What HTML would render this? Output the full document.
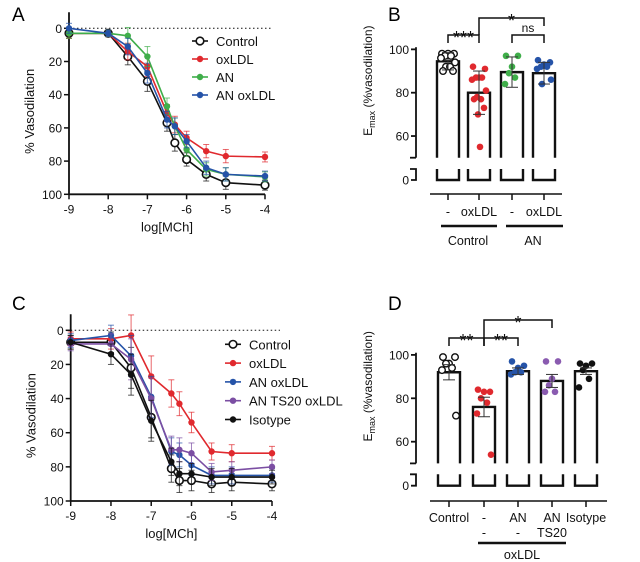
<!DOCTYPE html>
<html><head><meta charset="utf-8"><style>
body{margin:0;background:#fff}
svg{display:block;font-family:"Liberation Sans",Arial,sans-serif}
</style></head><body>
<svg id="fig" width="640" height="562" viewBox="0 0 640 562" xmlns="http://www.w3.org/2000/svg">
<rect width="640" height="562" fill="#fff"/>
<text x="12" y="21" font-size="19">A</text>
<text x="388" y="21" font-size="19">B</text>
<text x="12" y="310" font-size="19">C</text>
<text x="388" y="310" font-size="19">D</text>
</svg>
<script>
const doseX = [-9,-8,-7.5,-7,-6.5,-6.3,-6,-5.5,-5,-4];
const xTicks = [-9,-8,-7,-6,-5,-4];
const yTicks = [0,20,40,60,80,100];
// Panel A
const aNames = ["Control","oxLDL","AN","AN oxLDL"];
const aControl = [3,3,17,32,57,69,79,88,93,94.5];
const aOxLDL = [3,3,14,23,51,58,66,74,77,77.5];
const aAN = [3,3,4.5,17,47,59,73,85,88,89.5];
const aANox = [0,3,11,27,55,59,68,84,88,89];
const aErr = [3,2,5,6,5,5,4,4,4,3];
// Panel C
const cNames = ["Control","oxLDL","AN oxLDL","AN TS20 oxLDL","Isotype"];
const cControl = [7,7,22,51,81,88,88,90,89,90];
const cOxLDL = [5,5,3,27,37,43,54,71,72,72];
const cANox = [6,3,15,39,71,73,79,85,85,85];
const cTS20 = [8,8,17,40,70,70,72,83,82,80];
const cIso = [7,14,26,53,77,84,84,86,86,86];
const cErr = [4,6,12,12,8,7,6,5,5,4];
// Panel B
const bBars = [94.5,80,89.5,89];
const bErr = [4,10,7,5];
const bDots = [[98,98,98,97,97,96,94,92,92,90,90],[92,91,87,87,87,86,81,78,77,77,73,70,55],[97,97,92,89,87,84],[95,94,93,92,92,91,86,84]];
// Panel D
const dBars = [92,76,92.5,88,92.5];
const dErr = [3.5,4.5,1.5,3,1.5];
const dDots = [[99,99,96,96,94,93,72],[84,83,83,80,78,73,54],[97,95,94,92,92,91],[97,97,89,86,83,83],[96,96,95,93,89,85]];

const NS="http://www.w3.org/2000/svg";
const svg=document.getElementById('fig');
function mk(tag,at,parent){const e=document.createElementNS(NS,tag);for(const k in at)e.setAttribute(k,at[k]);(parent||svg).appendChild(e);return e;}
function txt(x,y,s,size,anchor,parent){const t=mk('text',{x:x,y:y,'font-size':size,'text-anchor':anchor||'middle',fill:'#111'},parent);t.textContent=s;return t;}

function lineChart(o){
  const g=mk('g',{});
  
  
  const sx=v=>o.x0+(v+9)/5*(o.x1-o.x0);
  const sy=v=>o.y0+v/100*(o.y1-o.y0);
  mk('line',{x1:o.x0,y1:o.y0-16,x2:o.x0,y2:o.y1,stroke:'#111','stroke-width':1.8},g);
  mk('line',{x1:o.x0,y1:o.y1,x2:o.x1,y2:o.y1,stroke:'#111','stroke-width':1.8},g);
  mk('line',{x1:o.x0,y1:sy(0),x2:o.x1+8,y2:sy(0),stroke:'#111','stroke-width':1,'stroke-dasharray':'1.5,2.5'},g);
  yTicks.forEach(v=>{mk('line',{x1:o.x0-5,y1:sy(v),x2:o.x0,y2:sy(v),stroke:'#111','stroke-width':1.5},g);
    const t=txt(o.x0-7,sy(v)+4.5,String(v),12,'end',g);
    
    });
  xTicks.forEach(v=>{mk('line',{x1:sx(v),y1:o.y1,x2:sx(v),y2:o.y1+5,stroke:'#111','stroke-width':1.5},g);
    const t=txt(sx(v),o.y1+19,String(v),12,'middle',g);
    
    });
  const xt=txt((o.x0+o.x1)/2,o.y1+37,'log[MCh]',13,'middle',g);
  
  
  const yt=txt(0,0,'% Vasodilation',13,'middle',g);
  yt.setAttribute('transform','translate('+(o.x0-35)+','+((o.y0+o.y1)/2)+') rotate(-90)');
  
  
  o.series.forEach((s,si)=>{
    const sg=mk('g',{},g);
    
    
    s.vals.forEach((v,i)=>{const e=o.err[i];
      mk('line',{x1:sx(doseX[i]),y1:sy(v-e),x2:sx(doseX[i]),y2:sy(v+e),stroke:s.col,'stroke-width':1,opacity:0.7},sg);
      mk('line',{x1:sx(doseX[i])-3,y1:sy(v-e),x2:sx(doseX[i])+3,y2:sy(v-e),stroke:s.col,'stroke-width':1,opacity:0.7},sg);
      mk('line',{x1:sx(doseX[i])-3,y1:sy(v+e),x2:sx(doseX[i])+3,y2:sy(v+e),stroke:s.col,'stroke-width':1,opacity:0.7},sg);});
    mk('polyline',{points:s.vals.map((v,i)=>sx(doseX[i])+','+sy(v)).join(' '),fill:'none',stroke:s.col,'stroke-width':1.6},sg);
    s.vals.forEach((v,i)=>{const c=mk('circle',{cx:sx(doseX[i]),cy:sy(v),r:s.open?3.8:3.2,fill:s.open?'#fff':s.col,stroke:s.col,'stroke-width':s.open?1.6:0},sg);
      
      });
    const ly=o.ly+si*o.ld;
    const le=mk('g',{},g);
    
    
    mk('line',{x1:o.lx-8,y1:ly,x2:o.lx+8,y2:ly,stroke:s.col,'stroke-width':1.6},le);
    mk('circle',{cx:o.lx,cy:ly,r:s.open?3.8:3.2,fill:s.open?'#fff':s.col,stroke:s.col,'stroke-width':s.open?1.6:0},le);
    txt(o.lx+16,ly+5,s.label,13,'start',le);
  });
}
lineChart({name:'chart-a',x0:69,x1:265,y0:28.3,y1:194.3,lx:200,ly:41,ld:18,err:aErr,series:[
 {label:aNames[0],vals:aControl,col:'#111',open:true},{label:aNames[1],vals:aOxLDL,col:'#e0292e'},
 {label:aNames[2],vals:aAN,col:'#3fae4a'},{label:aNames[3],vals:aANox,col:'#2553a8'}]});
lineChart({name:'chart-c',x0:70.7,x1:272,y0:330.3,y1:501,lx:233,ly:344.3,ld:18.8,err:cErr,series:[
 {label:cNames[0],vals:cControl,col:'#111',open:true},{label:cNames[1],vals:cOxLDL,col:'#e0292e'},
 {label:cNames[2],vals:cANox,col:'#2553a8'},{label:cNames[3],vals:cTS20,col:'#7b4ea3'},{label:cNames[4],vals:cIso,col:'#111'}]});

function barChart(o){
  const g=mk('g',{});
  
  
  const sy=v=>o.y80+(80-v)*o.k;
  const yBreak=sy(50);
  mk('line',{x1:o.ax,y1:sy(101),x2:o.ax,y2:yBreak,stroke:'#111','stroke-width':1.8},g);
  mk('line',{x1:o.ax-6,y1:yBreak,x2:o.ax,y2:yBreak,stroke:'#111','stroke-width':1.8},g);
  mk('polyline',{points:(o.ax-6)+','+o.lowTop+' '+o.ax+','+o.lowTop+' '+o.ax+','+o.zero+' '+(o.ax-5)+','+o.zero,fill:'none',stroke:'#111','stroke-width':1.8},g);
  [100,80,60].forEach(v=>{mk('line',{x1:o.ax-5,y1:sy(v),x2:o.ax,y2:sy(v),stroke:'#111','stroke-width':1.8},g);
    const t=txt(o.ax-7,sy(v)+4.5,String(v),12,'end',g);
    
    });
  const z=txt(o.ax-7,o.zero+4.5,'0',12,'end',g);
  
  
  const yt=mk('text',{'font-size':12,'text-anchor':'middle',fill:'#111',transform:'translate('+(o.ax-44)+','+(o.y80-12)+') rotate(-90)'},g);
  yt.innerHTML='E<tspan font-size="9" dy="3">max</tspan><tspan dy="-3"> (%vasodilation)</tspan>';
  
  
  const w=22;
  const jit=[-6,6,0,-3,3,-7,7,-2,2,-5,5,-1,1];
  o.bars.forEach((v,i)=>{const cx=o.cx[i];
    const bg=mk('g',{},g);
    
    
    mk('polyline',{points:(cx-w/2)+','+yBreak+' '+(cx-w/2)+','+sy(v)+' '+(cx+w/2)+','+sy(v)+' '+(cx+w/2)+','+yBreak,fill:'#fff',stroke:'#111','stroke-width':2.4},bg);
    mk('polyline',{points:(cx-w/2)+','+o.lowTop+' '+(cx-w/2)+','+o.zero+' '+(cx+w/2)+','+o.zero+' '+(cx+w/2)+','+o.lowTop,fill:'none',stroke:'#111','stroke-width':2.4},bg);
    const d=o.dots[i];
    d.forEach((dv,j)=>{const off=jit[j%jit.length];
      const c=mk('circle',{cx:cx+off,cy:sy(dv),r:3.3,fill:o.open[i]?'#fff':o.col[i],stroke:o.open[i]?'#111':'none','stroke-width':1.4},bg);
      
      });
    const e=o.err[i];
    mk('line',{x1:cx,y1:sy(v-e),x2:cx,y2:sy(v+e),stroke:'#333','stroke-width':1},bg);
    mk('line',{x1:cx-6,y1:sy(v-e),x2:cx+6,y2:sy(v-e),stroke:'#333','stroke-width':1},bg);
    mk('line',{x1:cx-6,y1:sy(v+e),x2:cx+6,y2:sy(v+e),stroke:'#333','stroke-width':1},bg);
    mk('line',{x1:cx,y1:o.catY,x2:cx,y2:o.catY+6,stroke:'#111','stroke-width':1.5},g);
  });
  mk('line',{x1:o.catX0,y1:o.catY,x2:o.catX1,y2:o.catY,stroke:'#111','stroke-width':1.5},g);
  o.labels.forEach(l=>{const t=txt(l[0],l[1],l[2],12.5,'middle',g);
    
    });
  o.thick.forEach(l=>mk('line',{x1:l[0],y1:l[2],x2:l[1],y2:l[2],stroke:'#111','stroke-width':2.6},g));
  o.sig.forEach(s=>{const sg=mk('g',{},g);
    
    
    mk('polyline',{points:s[0]+','+s[3]+' '+s[0]+','+s[2]+' '+s[1]+','+s[2]+' '+s[1]+','+s[4],fill:'none',stroke:'#111','stroke-width':1.5},sg);
    txt((s[0]+s[1])/2,s[2]+(s[5]=='ns'?-3:9),s[5],s[5]=='ns'?12:18,'middle',sg);});
}
barChart({name:'chart-b',ax:416,y80:92.7,k:2.167,lowTop:169,zero:180,bars:bBars,err:bErr,dots:bDots,
 cx:[448,479,512,544],open:[true,false,false,false],col:['#111','#e0292e','#3fae4a','#2553a8'],
 catY:194,catX0:430,catX1:562,
 labels:[[448,216,'-'],[479,216,'oxLDL'],[512,216,'-'],[544,216,'oxLDL'],[468,245,'Control'],[533,245,'AN']],
 thick:[[441,497,226],[506,563,226]],
 sig:[[448,479,35,43,43,'***'],[479,544,18,35,26,'*'],[512,544,35,43,43,'ns']]});
barChart({name:'chart-d',ax:416,y80:398.3,k:2.17,lowTop:474.3,zero:485.7,bars:dBars,err:dErr,dots:dDots,
 cx:[449,484,518,552,586],open:[true,false,false,false,false],col:['#111','#e0292e','#2553a8','#8a5bb0','#111'],
 catY:501,catX0:430,catX1:607,
 labels:[[449,522,'Control'],[484,522,'-'],[518,522,'AN'],[552,522,'AN'],[586,522,'Isotype'],[484,537,'-'],[518,537,'-'],[552,537,'TS20'],[522,559,'oxLDL']],
 thick:[[478,566,543]],
 sig:[[449,484,338,346,346,'**'],[484,518,338,346,346,'**'],[484,552,320,338,328,'*']]});
</script>
</body></html>
